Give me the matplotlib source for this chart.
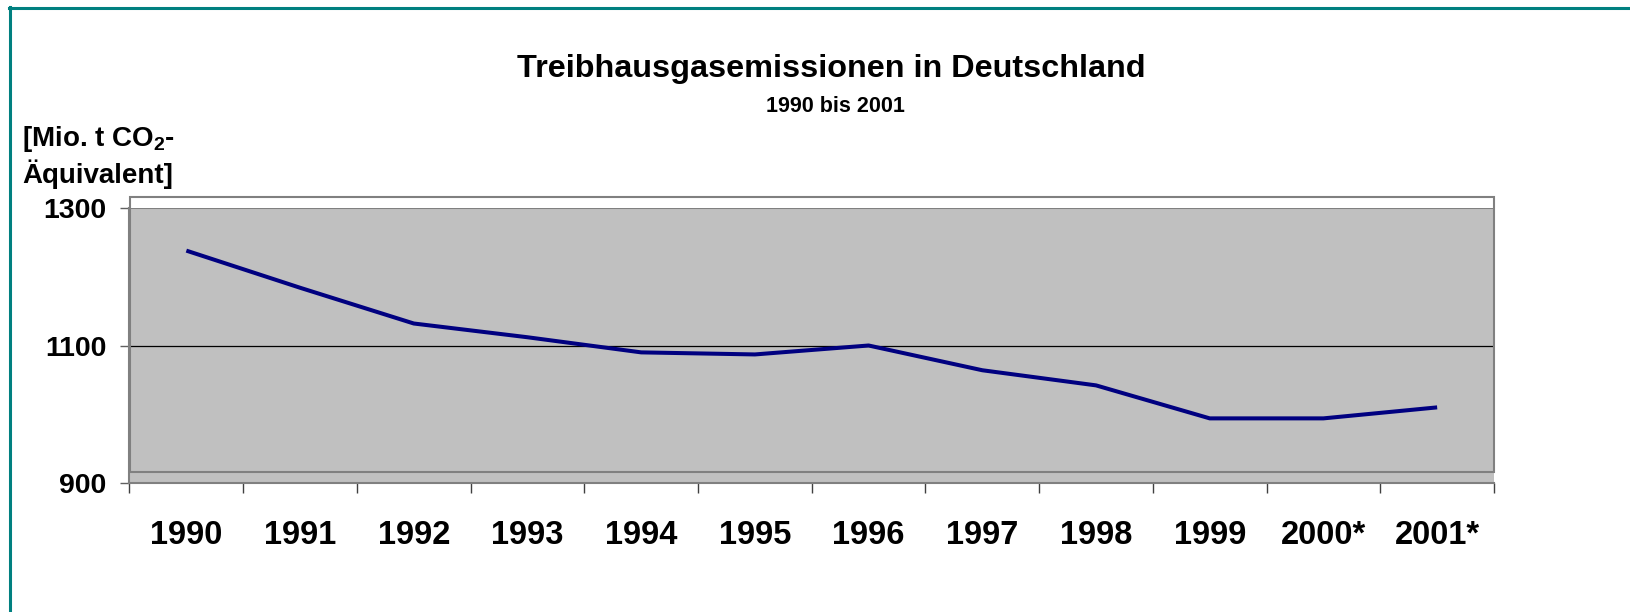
import matplotlib
matplotlib.use("Agg")
import matplotlib.pyplot as plt
from matplotlib.lines import Line2D
from matplotlib.patches import Rectangle

years = ["1990", "1991", "1992", "1993", "1994", "1995", "1996",
         "1997", "1998", "1999", "2000*", "2001*"]
emissions = [1238, 1184, 1132, 1112, 1090, 1087, 1100, 1064, 1042, 994, 994, 1010]
y_ticks = [900, 1100, 1300]

title = "Treibhausgasemissionen in Deutschland"
subtitle = "1990 bis 2001"

plt.rcParams['font.family'] = ['Liberation Sans', 'DejaVu Sans']
plt.rcParams['mathtext.fontset'] = 'custom'
plt.rcParams['mathtext.rm'] = 'Liberation Sans:bold'
plt.rcParams['mathtext.bf'] = 'Liberation Sans:bold'

W, H = 1631, 612
fig = plt.figure(figsize=(W / 100, H / 100), dpi=100)

def fx(px):
    return px / W

def fy(py):
    return 1 - py / H

ax_left, ax_right, ax_top, ax_bottom = 129.5, 1494, 208, 483
ax = fig.add_axes([fx(ax_left), fy(ax_bottom), fx(ax_right - ax_left), (ax_bottom - ax_top) / H])
ax.set_facecolor('#c0c0c0')

x = list(range(len(years)))
ax.plot(x, emissions, color='#000080', lw=2.9, solid_capstyle='butt', zorder=5)

ax.set_xlim(-0.5, len(years) - 0.5)
ax.set_ylim(900, 1300)

ax.axhline(1100, color='black', lw=0.9, zorder=2)
ax.axhline(1300, color='#808080', lw=1.5, zorder=2)

for s in ['top', 'right']:
    ax.spines[s].set_visible(False)
ax.spines['left'].set_color('#808080')
ax.spines['left'].set_linewidth(1.5)
ax.spines['bottom'].set_color('#808080')
ax.spines['bottom'].set_linewidth(1.5)

ax.set_yticks(y_ticks)
ax.set_yticklabels([str(v) for v in y_ticks], fontsize=20.5, fontweight='bold')
ax.tick_params(axis='y', length=6.5, width=1, color='#606060', pad=10)

ax.set_xticks(x)
ax.set_xticklabels(years, fontsize=23.5, fontweight='bold')
ax.set_xticks([i - 0.5 for i in range(len(years) + 1)], minor=True)
ax.tick_params(axis='x', which='major', length=0, pad=26.5)
ax.tick_params(axis='x', which='minor', length=7.2, width=1, color='#404040', direction='out')

# back-wall outline (offset upward)
rect = Rectangle((fx(130), fy(472)), fx(1494 - 130), (472 - 197) / H,
                 transform=fig.transFigure, fill=False, edgecolor='#808080', lw=1.5)
fig.add_artist(rect)

# titles
fig.text(fx(831), fy(69), title, ha='center', va='center', fontsize=23.3, fontweight='bold')
fig.text(fx(835), fy(106), subtitle, ha='center', va='center', fontsize=15.5, fontweight='bold')

# y-axis label
fig.text(fx(22), fy(139), r"[Mio. t CO$_{\mathbf{2}}$-", ha='left', va='center', fontsize=20, fontweight='bold')
fig.text(fx(22), fy(174), "Äquivalent]", ha='left', va='center', fontsize=20, fontweight='bold')

# frame lines (teal)
fig.add_artist(Line2D([fx(10.5), fx(10.5)], [fy(7), 0], transform=fig.transFigure, color='#008080', lw=2.2))
fig.add_artist(Line2D([fx(9.5), 1], [fy(7.5), fy(7.5)], transform=fig.transFigure, color='#008080', lw=2.2))

fig.savefig("out.png", dpi=100)
